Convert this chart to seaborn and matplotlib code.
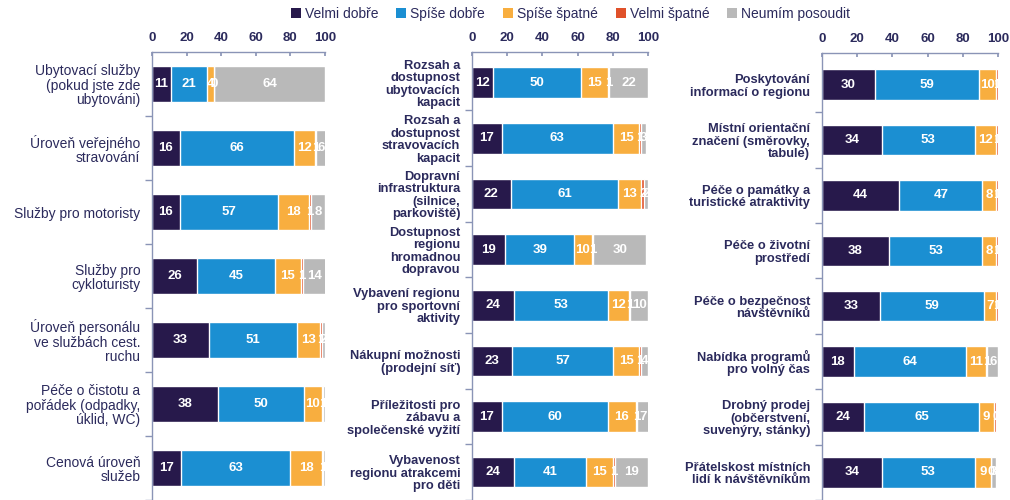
import numpy as np
import pandas as pd
import matplotlib.pyplot as plt
from matplotlib.patches import Patch
import seaborn as sns

sns.set_theme(style="white")
plt.rcParams['font.family'] = ['Liberation Sans', 'DejaVu Sans']

## Kategorie odpovedi a barvy
odpovedi = ["Velmi dobře", "Spíše dobře", "Spíše špatné", "Velmi špatné", "Neumím posoudit"]
barvy = ["#27194b", "#1b8fd2", "#f8ae3f", "#e0512a", "#b9b9b9"]

## Panel 1
kat1 = ["Ubytovací služby\n(pokud jste zde\nubytováni)",
        "Úroveň veřejného\nstravování",
        "Služby pro motoristy",
        "Služby pro\ncykloturisty",
        "Úroveň personálu\nve službách cest.\nruchu",
        "Péče o čistotu a\npořádek (odpadky,\núklid, WC)",
        "Cenová úroveň\nslužeb"]
vd1 = [11, 16, 16, 26, 33, 38, 17]
sd1 = [21, 66, 57, 45, 51, 50, 63]
ss1 = [4, 12, 18, 15, 13, 10, 18]
vs1 = [0, 1, 1, 1, 1, 1, 1]
np1 = [64, 6, 8, 14, 2, 1, 1]

## Panel 2
kat2 = ["Rozsah a\ndostupnost\nubytovacích\nkapacit",
        "Rozsah a\ndostupnost\nstravovacích\nkapacit",
        "Dopravní\ninfrastruktura\n(silnice,\nparkoviště)",
        "Dostupnost\nregionu\nhromadnou\ndopravou",
        "Vybavení regionu\npro sportovní\naktivity",
        "Nákupní možnosti\n(prodejní síť)",
        "Příležitosti pro\nzábavu a\nspolečenské vyžití",
        "Vybavenost\nregionu atrakcemi\npro děti"]
vd2 = [12, 17, 22, 19, 24, 23, 17, 24]
sd2 = [50, 63, 61, 39, 53, 57, 60, 41]
ss2 = [15, 15, 13, 10, 12, 15, 16, 15]
vs2 = [1, 1, 2, 1, 1, 1, 1, 1]
np2 = [22, 3, 2, 30, 10, 4, 7, 19]

## Panel 3
kat3 = ["Poskytování\ninformací o regionu",
        "Místní orientační\nznačení (směrovky,\ntabule)",
        "Péče o památky a\nturistické atraktivity",
        "Péče o životní\nprostředí",
        "Péče o bezpečnost\nnávštěvníků",
        "Nabídka programů\npro volný čas",
        "Drobný prodej\n(občerstvení,\nsuvenýry, stánky)",
        "Přátelskost místních\nlidí k návštěvníkům"]
vd3 = [30, 34, 44, 38, 33, 18, 24, 34]
sd3 = [59, 53, 47, 53, 59, 64, 65, 53]
ss3 = [10, 12, 8, 8, 7, 11, 9, 9]
vs3 = [1, 1, 1, 1, 1, 1, 1, 0]
np3 = [0, 0, 0, 0, 0, 6, 0, 3]

navy = "#2b2a5c"
osa = "#8a94b6"


def kresli(ax, kategorie, hodnoty, ylim, vaha, velikost):
    df = pd.DataFrame(dict(zip(odpovedi, hodnoty)), index=kategorie)
    kum = df.cumsum(axis=1)
    # skladane sloupce - kreslime kumulativni soucty od nejdelsiho
    for i in reversed(range(len(odpovedi))):
        sns.barplot(x=kum.iloc[:, i].values, y=kategorie, orient='h',
                    color=barvy[i], saturation=1, width=0.55,
                    errorbar=None, ax=ax)
    for i in range(len(odpovedi)):
        for j in range(len(kategorie)):
            v = df.iloc[j, i]
            ax.text(kum.iloc[j, i] - v / 2, j, str(v), ha='center', va='center',
                    color='white', fontsize=9.5, fontweight='bold', clip_on=True)
    ax.set_xlim(0, 100)
    ax.set_ylim(*ylim)
    ax.set_xlabel('')
    ax.set_ylabel('')
    ax.xaxis.tick_top()
    ax.set_xticks(range(0, 101, 20))
    ax.tick_params(axis='x', direction='in', length=3, color=osa, pad=6,
                   labelsize=9.5, labelcolor=navy)
    for t in ax.get_xticklabels():
        t.set_fontweight('bold')
    ax.set_yticks(range(len(kategorie)))
    ax.set_yticklabels(kategorie, fontsize=velikost, color=navy, fontweight=vaha,
                       linespacing=1.05)
    ax.set_yticks(np.arange(0.5, len(kategorie), 1), minor=True)
    ax.tick_params(axis='y', which='major', length=0, pad=8.5)
    ax.tick_params(axis='y', which='minor', left=True, length=5, color=osa, width=1)
    for s in ['bottom', 'right']:
        ax.spines[s].set_visible(False)
    for s in ['left', 'top']:
        ax.spines[s].set_color(osa)
        ax.spines[s].set_linewidth(1)


fig = plt.figure(figsize=(10.1, 5.0), dpi=100)
ax1 = fig.add_axes([152 / 1010, 0, 173 / 1010, 448 / 500])
ax2 = fig.add_axes([472 / 1010, 0, 176 / 1010, 448 / 500])
ax3 = fig.add_axes([822 / 1010, 0, 176 / 1010, 447 / 500])

kresli(ax1, kat1, [vd1, sd1, ss1, vs1, np1], (6.39, -0.5), 'normal', 10)
kresli(ax2, kat2, [vd2, sd2, ss2, vs2, np2], (7.38, -0.55), 'bold', 9.3)
kresli(ax3, kat3, [vd3, sd3, ss3, vs3, np3], (7.36, -0.57), 'bold', 9.3)

handles = [Patch(facecolor=c, edgecolor='none') for c in barvy]
leg = fig.legend(handles, odpovedi, loc='center', bbox_to_anchor=(0.565, 0.972),
                 ncol=5, frameon=False, fontsize=10, handlelength=0.7,
                 handleheight=0.7, handletextpad=0.3, columnspacing=1.3)
for t in leg.get_texts():
    t.set_color(navy)

plt.savefig("out.png", dpi=100)
